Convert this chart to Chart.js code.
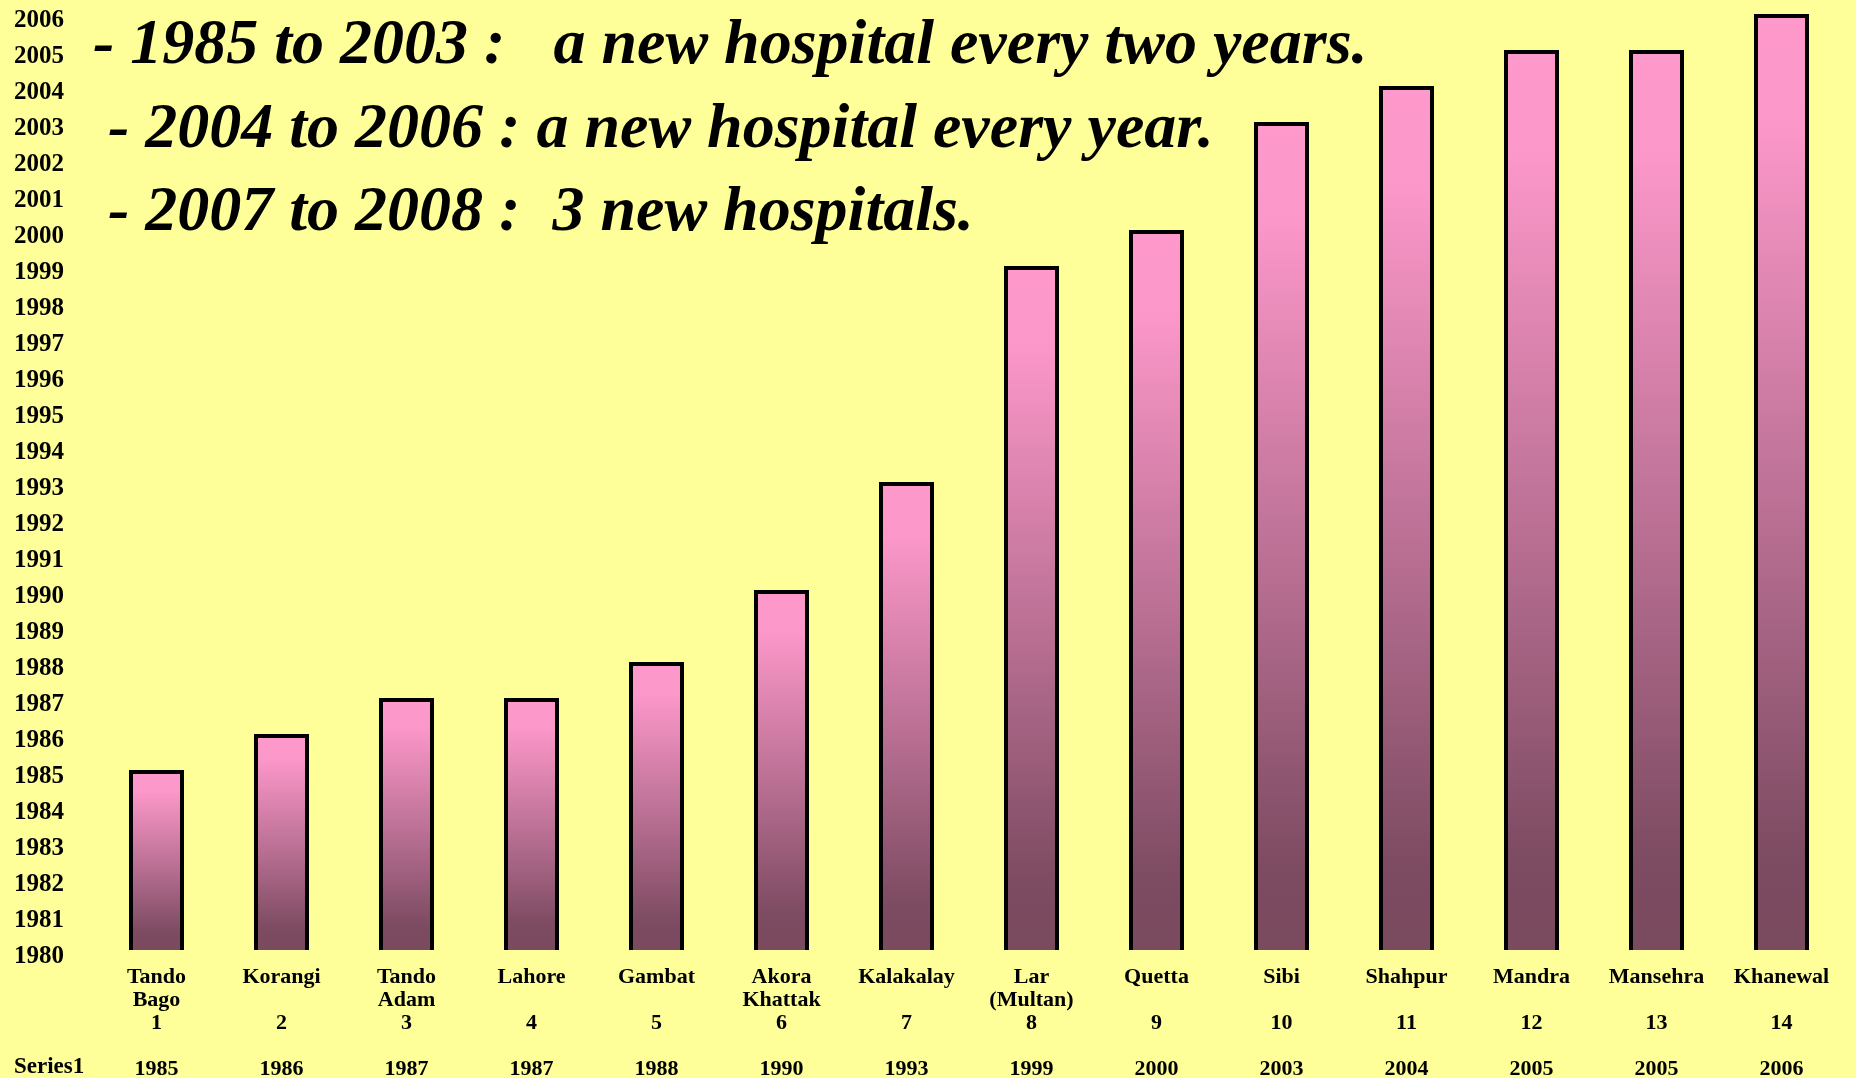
<!DOCTYPE html>
<html>
<head>
<meta charset="utf-8">
<title>Hospitals by year</title>
<script src="https://cdn.jsdelivr.net/npm/chart.js@4.4.1/dist/chart.umd.min.js"></script>
<style>
    html, body { margin: 0; padding: 0; background: #FFFF99; }
    #wrap { width: 1856px; height: 1078px; position: relative; }
</style>
</head>
<body>
<div id="wrap"><canvas id="barChart"></canvas></div>
<script>
// hospitals, in the order they were opened
var hospitals = ['Tando Bago', 'Korangi', 'Tando Adam', 'Lahore', 'Gambat', 'Akora Khattak', 'Kalakalay',
    'Lar (Multan)', 'Quetta', 'Sibi', 'Shahpur', 'Mandra', 'Mansehra', 'Khanewal'];
var openedIn = [1985, 1986, 1987, 1987, 1988, 1990, 1993, 1999, 2000, 2003, 2004, 2005, 2005, 2006];
var seriesName = 'Series1';
var yMin = 1980;
var yMax = 2006;

var notes = [
    '- 1985 to 2003 :   a new hospital every two years.',
    '- 2004 to 2006 : a new hospital every year.',
    '- 2007 to 2008 :  3 new hospitals.'
];

var serif = '"Liberation Serif", "Times New Roman", serif';

// pink at the top of each bar fading to dark plum at the base
function barGradient(context) {
    var chart = context.chart;
    if (context.type !== 'data' || !chart.chartArea) {
        return '#FF99CC';
    }
    var y = chart.scales.y;
    var top = y.getPixelForValue(context.raw);
    var bottom = y.getPixelForValue(yMin);
    var g = chart.ctx.createLinearGradient(0, top, 0, bottom);
    g.addColorStop(0, '#FF99CC');
    g.addColorStop(0.12, '#FB97C9');
    g.addColorStop(0.55, '#B76E91');
    g.addColorStop(0.9, '#7D4B62');
    g.addColorStop(1, '#7A4A5E');
    return g;
}

var barShadow = {
    id: 'barShadow',
    beforeDatasetsDraw: function (chart) {
        var ctx = chart.ctx;
        ctx.save();
        ctx.shadowColor = 'rgba(0,0,0,0.55)';
        ctx.shadowOffsetX = 2;
        ctx.shadowOffsetY = 2;
        ctx.shadowBlur = 0;
    },
    afterDatasetsDraw: function (chart) {
        chart.ctx.restore();
    }
};

var extraText = {
    id: 'extraText',
    beforeDraw: function (chart) {
        var ctx = chart.ctx;
        ctx.save();
        ctx.fillStyle = '#FFFF99';
        ctx.fillRect(0, 0, chart.width, chart.height);
        ctx.restore();
    },
    afterDraw: function (chart) {
        var ctx = chart.ctx;
        ctx.save();
        ctx.fillStyle = '#000';
        ctx.textAlign = 'left';
        ctx.textBaseline = 'alphabetic';
        ctx.font = 'italic bold 64px ' + serif;
        ctx.fillText(notes[0], 93, 63);
        ctx.fillText(notes[1], 108, 147);
        ctx.fillText(notes[2], 108, 230);

        // data table row title
        ctx.font = 'bold 23px ' + serif;
        ctx.textBaseline = 'middle';
        ctx.fillText(seriesName, 14, 1067);
        ctx.restore();
    }
};

var ctx = document.getElementById('barChart').getContext('2d');
window.barChart = new Chart(ctx, {
    type: 'bar',
    data: {
        labels: hospitals,
        datasets: [{
            label: seriesName,
            data: openedIn,
            backgroundColor: barGradient,
            borderColor: '#000',
            borderWidth: 4,
            borderSkipped: false,
            barPercentage: 0.44,
            categoryPercentage: 1
        }]
    },
    options: {
        responsive: true,
        maintainAspectRatio: false,
        animation: false,
        layout: {
            padding: { left: 14, right: 12, top: 0, bottom: 0 }
        },
        plugins: {
            legend: { display: false },
            tooltip: { enabled: false }
        },
        scales: {
            x: {
                grid: { display: false },
                border: { display: false },
                afterFit: function (scale) {
                    scale.height = 128;
                },
                ticks: {
                    autoSkip: false,
                    maxRotation: 0,
                    padding: 8,
                    color: '#000',
                    font: { family: serif, size: 22, weight: 'bold', lineHeight: '23px' },
                    callback: function (value, index) {
                        var words = hospitals[index].split(' ');
                        return [words[0], words[1] || '', String(index + 1), '', String(openedIn[index])];
                    }
                }
            },
            y: {
                min: yMin,
                max: yMax,
                grid: { display: false },
                border: { display: false },
                afterFit: function (scale) {
                    scale.width = 80;
                    scale.paddingTop = 14;
                },
                ticks: {
                    stepSize: 1,
                    crossAlign: 'far',
                    labelOffset: 7,
                    color: '#000',
                    font: { family: serif, size: 25, weight: 'bold' },
                    callback: function (value) {
                        return value;
                    }
                }
            }
        }
    },
    plugins: [barShadow, extraText]
});
</script>
</body>
</html>
